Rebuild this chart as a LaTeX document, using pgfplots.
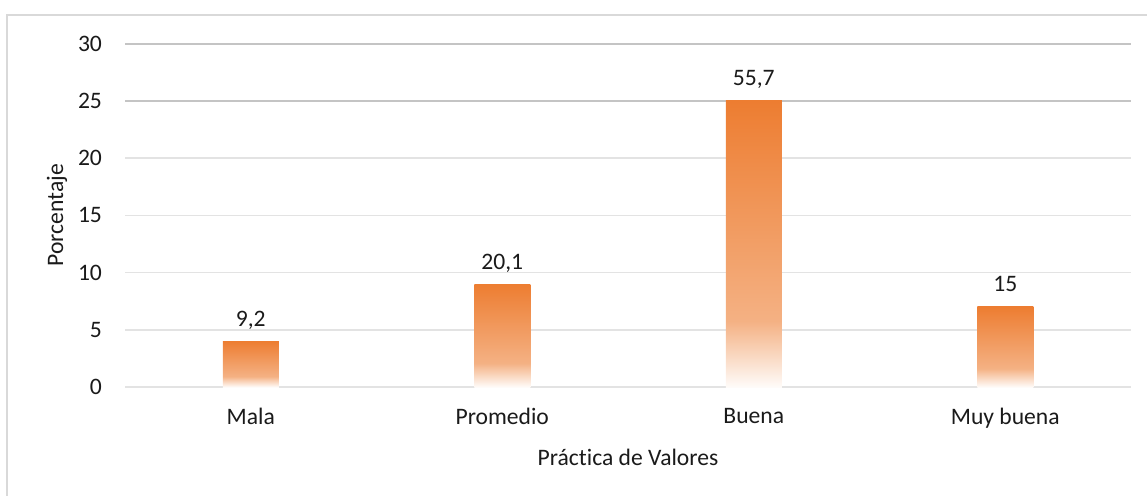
\documentclass[border=0pt]{standalone}
\usepackage{pgfplots}
\pgfplotsset{compat=1.18}
\usepackage{fontspec}
\setmainfont{Carlito}[Ligatures={NoCommon}]
\definecolor{barorange}{HTML}{ED7D31}
\definecolor{gridlight}{HTML}{E3E3E3}
\definecolor{griddark}{HTML}{C4C4C4}
\definecolor{framegray}{HTML}{D9D9D9}
\definecolor{txt}{HTML}{1A1A1A}
\pgfdeclareverticalshading{barfade}{100bp}{color(0bp)=(barorange!3); color(25bp)=(barorange!3); color(36.5bp)=(barorange!60); color(75bp)=(barorange); color(100bp)=(barorange)}
\begin{document}
\begin{tikzpicture}
\begin{axis}[
  name=ax,
  scale only axis,
  width=503pt, height=171.65pt,
  xmin=-0.5, xmax=3.5,
  ymin=0, ymax=30,
  ytick={0,5,10,15,20,25,30},
  xtick={0,1,2,3},
  xticklabels={Mala,Promedio,Buena,Muy buena},
  axis line style={draw=none},
  major tick length=0pt,
  ymajorgrids,
  grid style={color=gridlight, line width=0.75pt},
  extra y ticks={25,29.995},
  extra y tick labels={},
  extra y tick style={grid style={color=griddark, line width=0.75pt}},
  /pgf/number format/assume math mode=true,
  ticklabel style={font=\fontsize{11.8}{14}\selectfont, text=txt},
  yticklabel style={xshift=-8pt},
  xticklabel style={yshift=-7pt},
  ylabel={Porcentaje},
  xlabel={Práctica de Valores},
  label style={font=\fontsize{11.8}{14}\selectfont, text=txt},
  ylabel style={at={(axis description cs:0,0.5)}, anchor=center, yshift=34pt},
  xlabel style={at={(axis description cs:0.5,0)}, anchor=center, yshift=-35pt},
  point meta=explicit symbolic,
  nodes near coords,
  every node near coord/.append style={font=\fontsize{11.8}{14}\selectfont, text=txt, anchor=base, yshift=7.5pt, inner sep=0pt},
  clip=false,
]
\addplot[ybar, bar width=28pt, draw=none, shading=barfade] coordinates {(0,4) [9,2]};
\addplot[ybar, bar width=28pt, draw=none, shading=barfade] coordinates {(1,9) [20,1]};
\addplot[ybar, bar width=28pt, draw=none, shading=barfade] coordinates {(2,25) [55,7]};
\addplot[ybar, bar width=28pt, draw=none, shading=barfade] coordinates {(3,7) [15]};
\end{axis}
\draw[framegray, line width=1pt] ([shift={(40pt,14.35pt)}]ax.north east) -- ([shift={(-59pt,14.35pt)}]ax.north west) -- ([shift={(-59pt,-80pt)}]ax.south west);
\pgfresetboundingbox
\path[use as bounding box] ([shift={(-62.5pt,-54.5pt)}]ax.south west) rectangle ([shift={(8pt,21.85pt)}]ax.north east);
\end{tikzpicture}
\end{document}
